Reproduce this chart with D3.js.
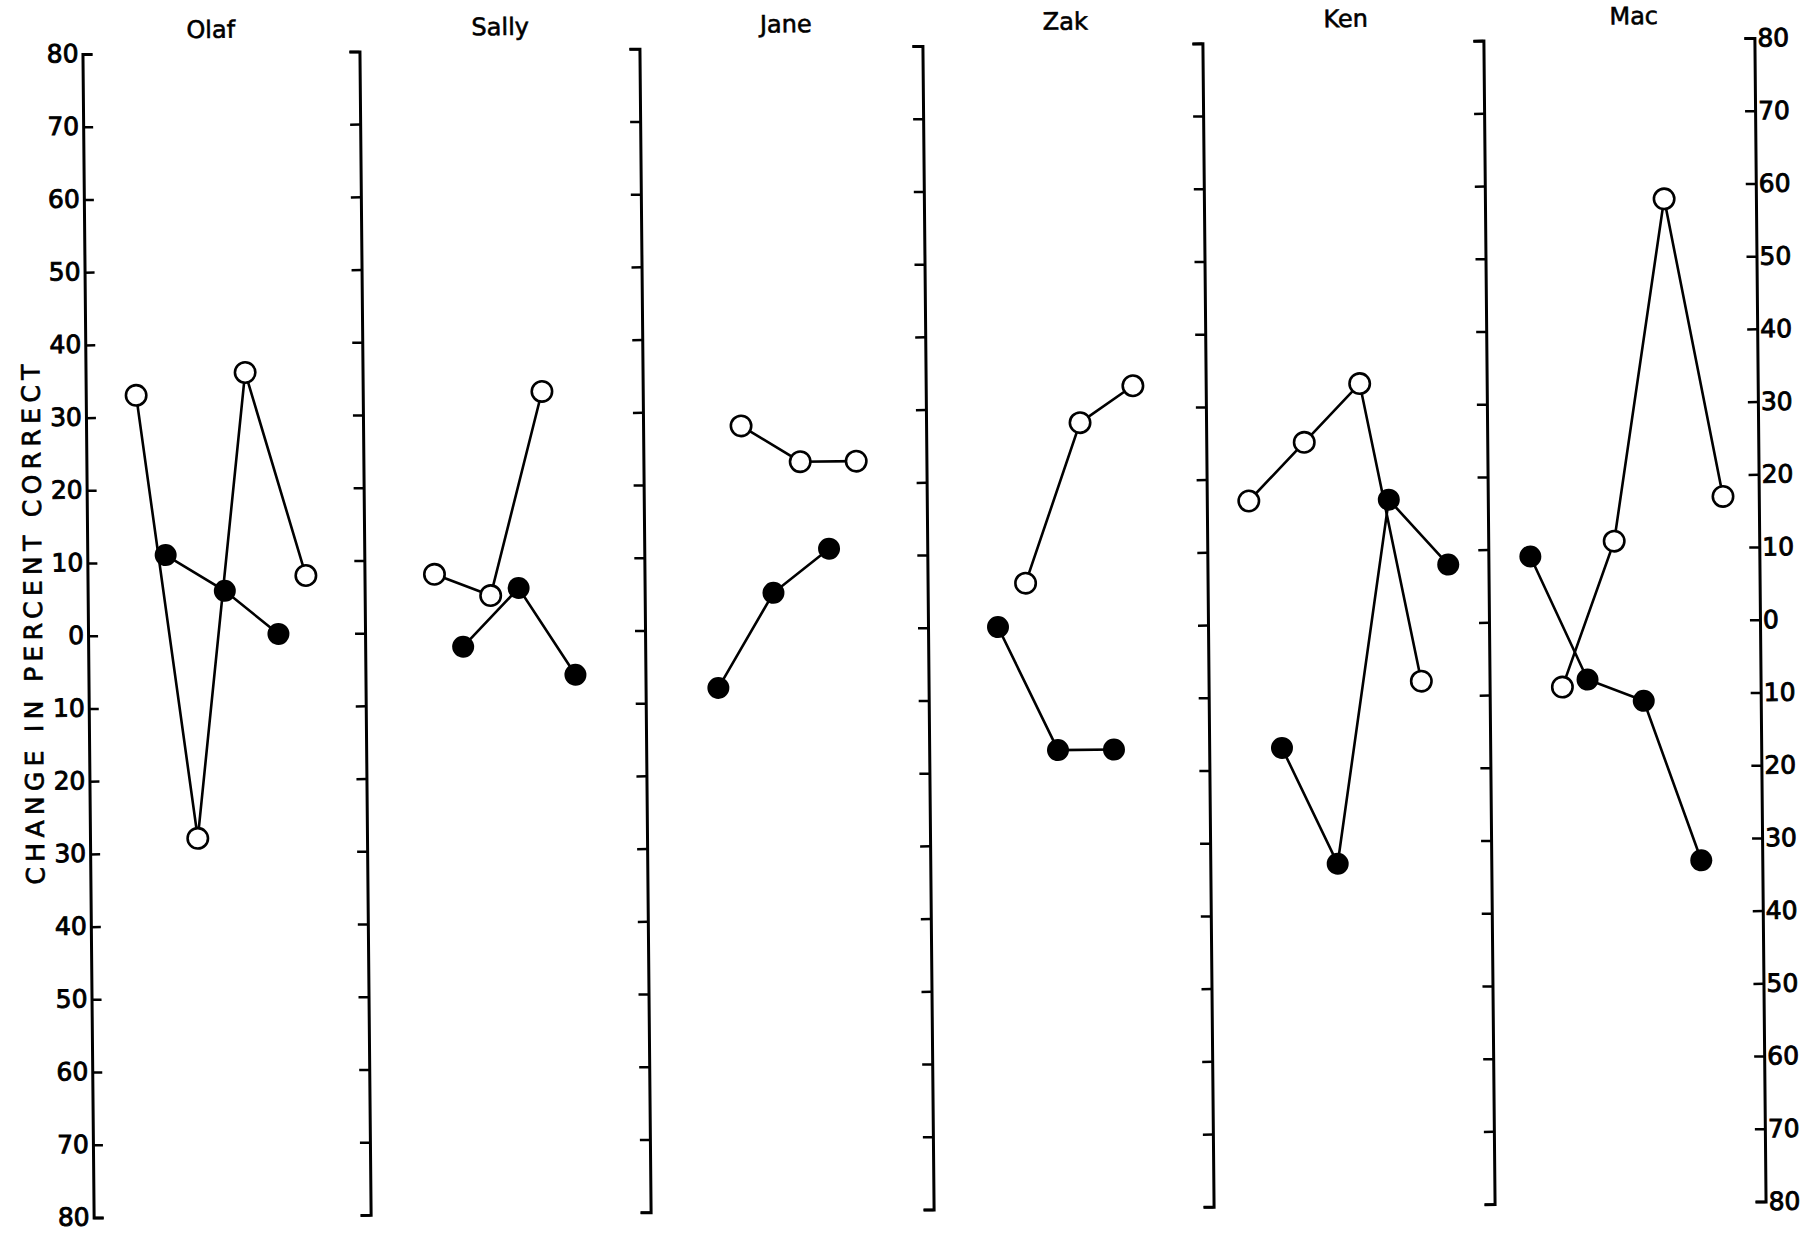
<!DOCTYPE html>
<html><head><meta charset="utf-8">
<script src="https://cdn.jsdelivr.net/npm/d3@7"></script>
<style>body{margin:0;background:#fff;} svg{display:block}</style>
</head><body>
<svg id="chart" width="1809" height="1233"></svg>
<script>
// ---- data ----
const participants = ["Olaf", "Sally", "Jane", "Zak", "Ken", "Mac"];
const yTickValues = [80, 70, 60, 50, 40, 30, 20, 10, 0, -10, -20, -30, -40, -50, -60, -70, -80];
const yTickLabels = ["80", "70", "60", "50", "40", "30", "20", "10", "0", "10", "20", "30", "40", "50", "60", "70", "80"];
const yAxisTitle = "CHANGE IN PERCENT CORRECT";
// open-circle series: position along session axis, change in percent correct
const openX = [[1.8, 3.85, 5.7, 7.8], [2.5, 4.5, 6.4], [3.5, 5.6, 7.6], [3.5, 5.5, 7.4], [1.5, 3.5, 5.5, 7.6], [2.6, 4.5, 6.4, 8.4]];
const openY = [[33, -28, 36, 8], [8, 5, 33], [28, 23, 23], [6, 28, 33], [17, 25, 33, -8], [-9, 11, 58, 17]];
// filled-circle series
const filledX = [[2.8, 4.9, 6.8], [3.5, 5.5, 7.5], [2.6, 4.6, 6.6], [2.5, 4.6, 6.6], [2.6, 4.55, 6.5, 8.6], [1.5, 3.5, 5.5, 7.5]];
const filledY = [[11, 6, 0], [-2, 6, -6], [-8, 5, 11], [0, -17, -17], [-17, -33, 17, 8], [9, -8, -11, -33]];

// ---- layout ----
const dividerX = [88, 365, 645, 928, 1208, 1489, 1760];
const titleShift = [-10, 1, 5, 3, 3, 15];
const FONT = "'DejaVu Sans', sans-serif";
const svg = d3.select("#chart");
const root = svg.append("g").attr("transform", "rotate(-0.55, 925, 627)");

const y = d3.scaleLinear().domain([-80, 80]).range([1209.5, 46]);

function styleAxis(g, showText) {
  g.select(".domain").attr("stroke", "#000").attr("stroke-width", 3);
  g.selectAll(".tick line").attr("stroke", "#000").attr("stroke-width", 2.5);
  g.selectAll(".tick text").attr("fill", "#000").attr("stroke", "#000").attr("stroke-width", 0.9)
    .style("font-family", FONT).style("font-size", "25px");
  if (!showText) g.selectAll(".tick text").remove();
}

// first (left) axis: ticks pointing inward, labels on left
const leftAxis = root.append("g").attr("transform", `translate(${dividerX[0]},0)`)
  .call(d3.axisLeft(y).tickValues(yTickValues).tickSize(-10).tickPadding(4)
    .tickFormat((d, i) => yTickLabels[i]));
styleAxis(leftAxis, true);
leftAxis.selectAll(".tick text").attr("dy", "0.3em");

// inner dividers: ticks pointing left, no labels
for (let i = 1; i < dividerX.length - 1; i++) {
  const g = root.append("g").attr("transform", `translate(${dividerX[i]},0)`)
    .call(d3.axisLeft(y).tickValues(yTickValues).tickSize(10).tickFormat(""));
  styleAxis(g, false);
}

// last (right) axis: ticks pointing left, labels on right
const rightAxis = root.append("g").attr("transform", `translate(${dividerX[dividerX.length - 1]},0)`)
  .call(d3.axisRight(y).tickValues(yTickValues).tickSize(-10).tickPadding(3)
    .tickFormat((d, i) => yTickLabels[i]));
styleAxis(rightAxis, true);

// y-axis title
root.append("text")
  .attr("transform", "translate(42,616) rotate(-90)")
  .attr("text-anchor", "middle")
  .attr("textLength", 520).attr("lengthAdjust", "spacing")
  .attr("fill", "#000").attr("stroke", "#000").attr("stroke-width", 0.7)
  .style("font-family", FONT).style("font-size", "25px")
  .text(yAxisTitle);

// panels
participants.forEach((name, i) => {
  const x = d3.scaleLinear().domain([0, 10]).range([dividerX[i], dividerX[i] + 280]);
  const panel = root.append("g");
  panel.append("text")
    .attr("x", (dividerX[i] + dividerX[i + 1]) / 2 + titleShift[i]).attr("y", 31)
    .attr("text-anchor", "middle")
    .attr("fill", "#000").attr("stroke", "#000").attr("stroke-width", 0.6)
    .style("font-family", FONT).style("font-size", "24px")
    .text(name);

  const openPts = openX[i].map((v, k) => [v, openY[i][k]]);
  const filledPts = filledX[i].map((v, k) => [v, filledY[i][k]]);
  const line = d3.line().x(d => x(d[0])).y(d => y(d[1]));

  panel.append("path").datum(openPts).attr("d", line)
    .attr("fill", "none").attr("stroke", "#000").attr("stroke-width", 2.6);
  panel.append("path").datum(filledPts).attr("d", line)
    .attr("fill", "none").attr("stroke", "#000").attr("stroke-width", 2.6);

  panel.selectAll("circle.filled").data(filledPts).join("circle")
    .attr("class", "filled")
    .attr("cx", d => x(d[0])).attr("cy", d => y(d[1])).attr("r", 11)
    .attr("fill", "#000");
  panel.selectAll("circle.open").data(openPts).join("circle")
    .attr("class", "open")
    .attr("cx", d => x(d[0])).attr("cy", d => y(d[1])).attr("r", 10.2)
    .attr("fill", "#fff").attr("stroke", "#000").attr("stroke-width", 2.6);
});
</script>
</body></html>
